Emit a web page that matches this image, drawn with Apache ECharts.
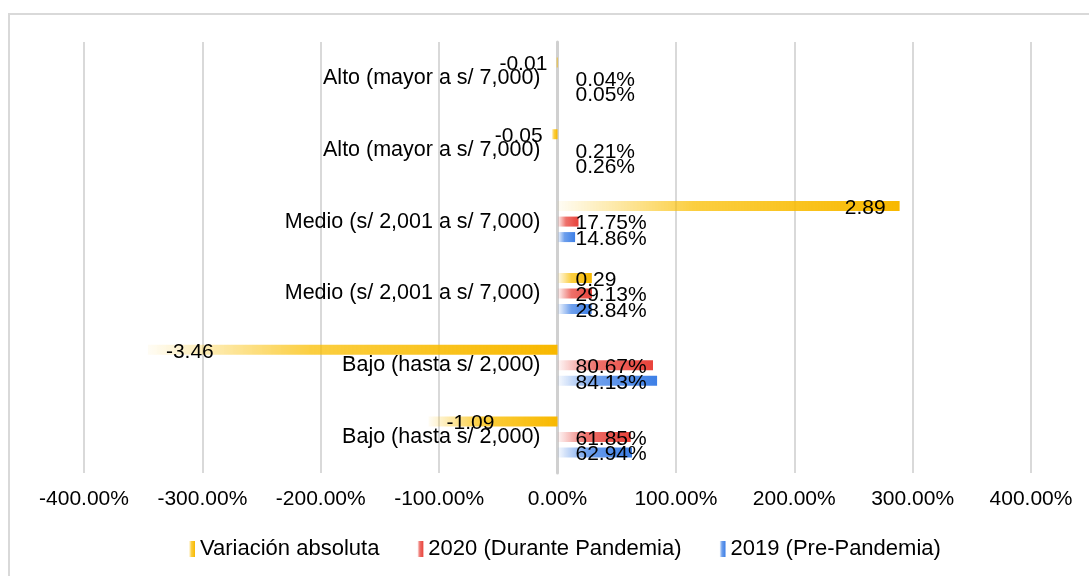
<!DOCTYPE html>
<html>
<head>
<meta charset="utf-8">
<script src="https://cdn.jsdelivr.net/npm/echarts@6/dist/echarts.min.js"></script>
<style>
  html, body { margin: 0; padding: 0; background: #fff; }
  #chart { width: 1089px; height: 576px; }
</style>
</head>
<body>
<div id="chart"></div>
<script>
const categories = [
  "Alto (mayor a s/ 7,000)",
  "Alto (mayor a s/ 7,000)",
  "Medio (s/ 2,001 a s/ 7,000)",
  "Medio (s/ 2,001 a s/ 7,000)",
  "Bajo (hasta s/ 2,000)",
  "Bajo (hasta s/ 2,000)",
];
const seriesNames = ["Variación absoluta", "2020 (Durante Pandemia)", "2019 (Pre-Pandemia)"];
const variacion = [-0.01, -0.05, 2.89, 0.29, -3.46, -1.09];
const anio2020 = [0.0004, 0.0021, 0.1775, 0.2913, 0.8067, 0.6185];
const anio2019 = [0.0005, 0.0026, 0.1486, 0.2884, 0.8413, 0.6294];
const xTicks = [-4, -3, -2, -1, 0, 1, 2, 3, 4];

function grad(rgb, solid) {
  return new echarts.graphic.LinearGradient(0, 0, 1, 0, [
    { offset: 0, color: "rgba(" + rgb + ",0.04)" },
    { offset: 0.4, color: "rgba(" + rgb + ",0.75)" },
    { offset: 1, color: solid },
  ]);
}

const pct = (v) => (v * 100).toFixed(2) + "%";
const labelFont = { fontFamily: "Liberation Sans, Arial", fontSize: 21, color: "#000" };

const gridLeft = 84;
const gridRight = 58;
const plotWidth = 1089 - gridLeft - gridRight;
// el eje de categorías va sobre el 0 del eje de valores
const zeroOffset = plotWidth * (0 - xTicks[0]) / (xTicks[xTicks.length - 1] - xTicks[0]);

// etiquetas de la variación: dentro del extremo, o fuera si la barra es muy corta
const variacionData = variacion.map((v) => {
  let label;
  if (v > 1) label = { position: "insideRight", distance: 14 };
  else if (v >= 0) label = { position: "insideLeft", distance: 18 };
  else if (v > -0.5) label = { position: "left", distance: 9 };
  else label = { position: "insideLeft", distance: 18 };
  return { value: v, label: label };
});

let chart = echarts.init(document.getElementById("chart"));
let option = {
  animation: false,
  graphic: [
    {
      type: "rect",
      shape: { x: 9, y: 14, width: 1200, height: 700 },
      style: { fill: "none", stroke: "#d9d9d9", lineWidth: 2 },
      silent: true,
    },
  ],
  legend: {
    bottom: 11,
    left: 184,
    icon: "rect",
    itemWidth: 6,
    itemHeight: 16,
    itemGap: 38,
    itemTextGap: 6,
    textStyle: { fontFamily: "Liberation Sans, Arial", fontSize: 22, color: "#000" },
    data: seriesNames,
  },
  grid: { left: gridLeft, right: gridRight, top: 42, bottom: 103, outerBoundsMode: "none", containLabel: false },
  xAxis: {
    type: "value",
    min: xTicks[0],
    max: xTicks[xTicks.length - 1],
    interval: 1,
    axisLine: { show: false },
    axisTick: { show: false },
    splitLine: { lineStyle: { color: "#d9d9d9", width: 2 } },
    axisLabel: {
      margin: 16,
      showMinLabel: true,
      showMaxLabel: true,
      formatter: (v) => pct(v),
      fontFamily: "Liberation Sans, Arial",
      fontSize: 21,
      color: "#000",
    },
  },
  yAxis: {
    type: "category",
    inverse: true,
    data: categories,
    offset: -zeroOffset,
    axisLine: { onZero: false, lineStyle: { color: "#d0d0d0", width: 3 } },
    axisTick: { show: false },
    axisLabel: Object.assign({ margin: 17 }, labelFont, { fontSize: 21.5 }),
  },
  series: [
    {
      name: seriesNames[0],
      type: "bar",
      barWidth: 10,
      barGap: "55%",
      itemStyle: { color: grad("250,190,0", "#f8b800") },
      label: Object.assign({ show: true, formatter: (p) => p.value.toFixed(2), offset: [0, 2] }, labelFont),
      data: variacionData,
    },
    {
      name: seriesNames[1],
      type: "bar",
      barWidth: 10,
      barGap: "55%",
      itemStyle: { color: grad("232,66,58", "#e8423a") },
      label: Object.assign({ show: true, position: "insideLeft", distance: 18, offset: [0, 2], formatter: (p) => pct(p.value) }, labelFont),
      data: anio2020,
    },
    {
      name: seriesNames[2],
      type: "bar",
      barWidth: 10,
      barGap: "55%",
      itemStyle: { color: grad("61,127,230", "#3d7fe6") },
      label: Object.assign({ show: true, position: "insideLeft", distance: 18, offset: [0, 2], formatter: (p) => pct(p.value) }, labelFont),
      data: anio2019,
    },
  ],
};
chart.setOption(option);
</script>
</body>
</html>
